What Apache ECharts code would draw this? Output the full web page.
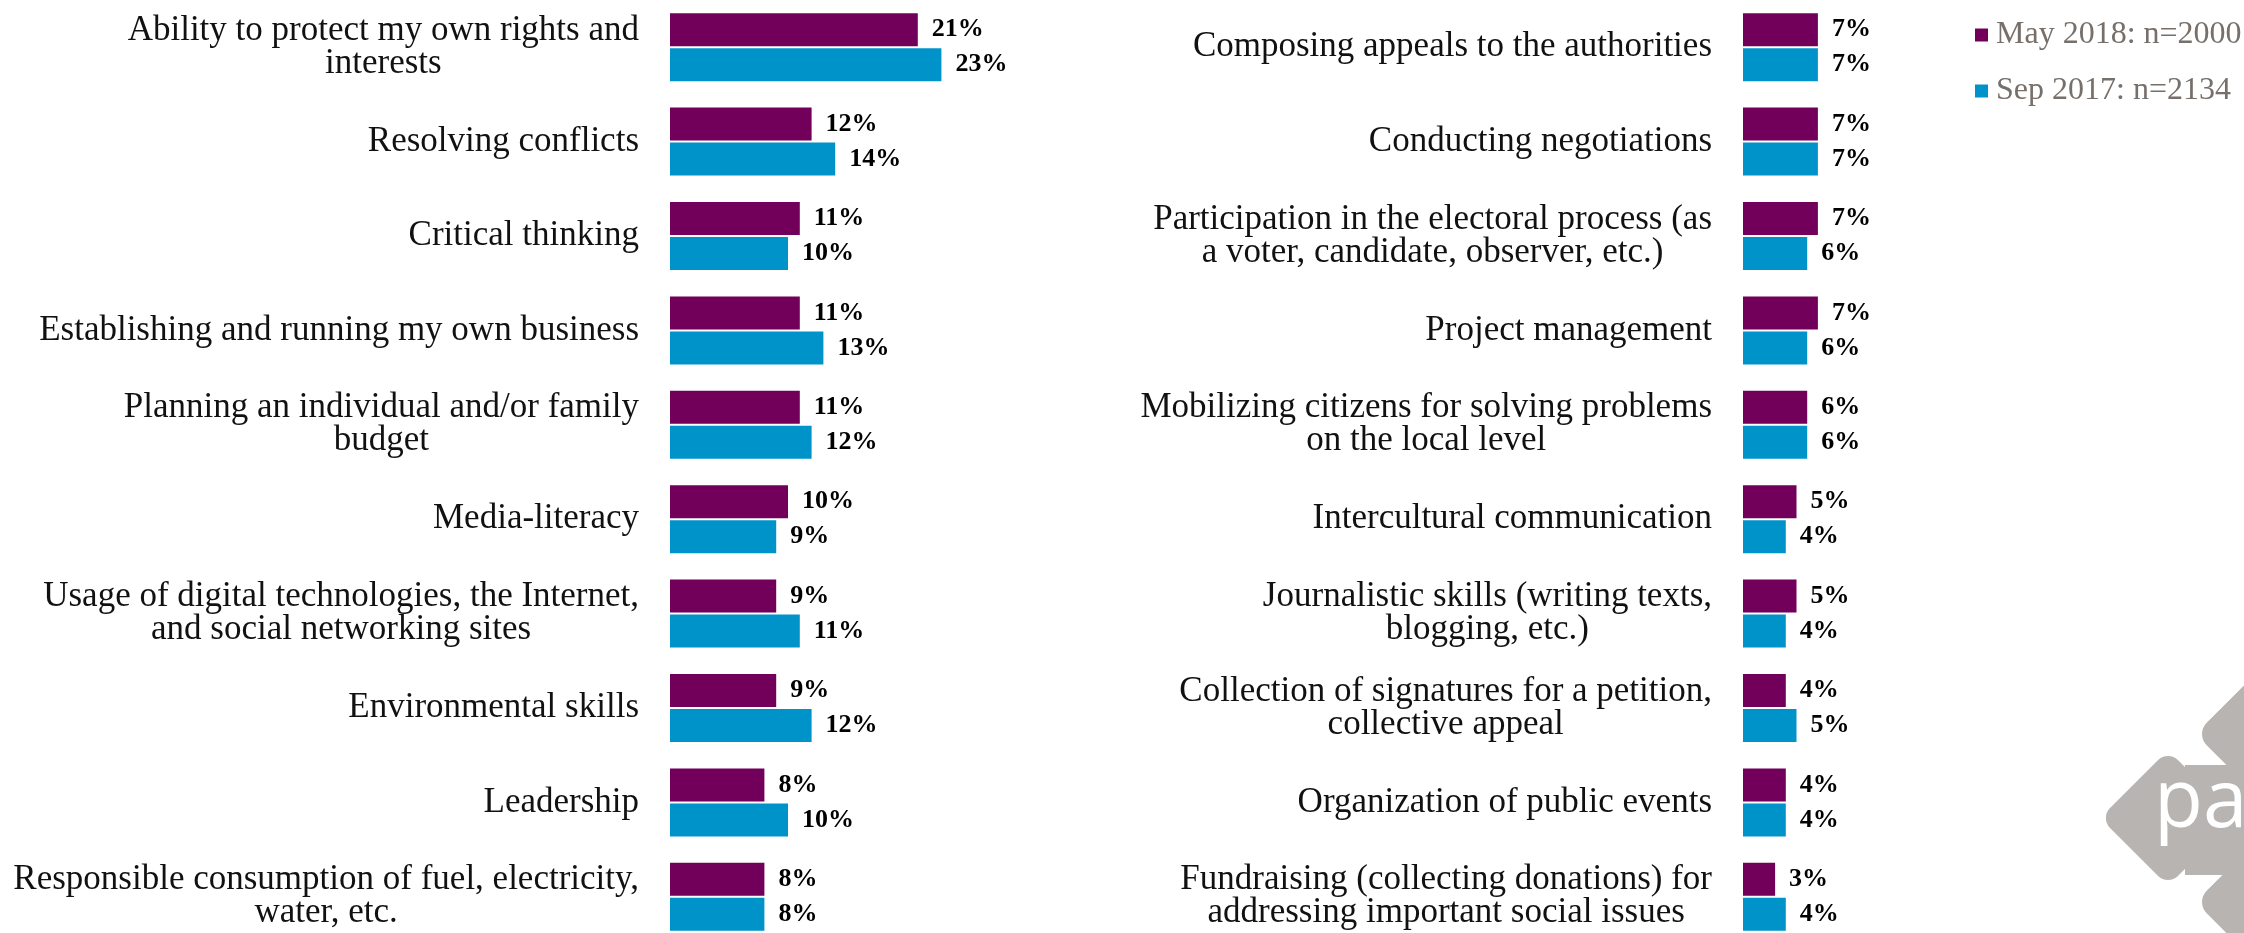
<!DOCTYPE html>
<html>
<head>
<meta charset="utf-8">
<style>
  html, body { margin: 0; padding: 0; background: #ffffff; }
  #chart { width: 2244px; height: 933px; }
</style>
<script src="https://cdn.jsdelivr.net/npm/echarts@6/dist/echarts.min.js"></script>
</head>
<body>
<div id="chart"></div>
<script>
// Skill areas, left column (top to bottom)
const leftSkills = [
  'Ability to protect my own rights and\ninterests',
  'Resolving conflicts',
  'Critical thinking',
  'Establishing and running my own business',
  'Planning an individual and/or family\nbudget',
  'Media-literacy',
  'Usage of digital technologies, the Internet,\nand social networking sites',
  'Environmental skills',
  'Leadership',
  'Responsible consumption of fuel, electricity,\nwater, etc.'
];
const leftMay2018 = [21, 12, 11, 11, 11, 10, 9, 9, 8, 8];
const leftSep2017 = [23, 14, 10, 13, 12, 9, 11, 12, 10, 8];

// Skill areas, right column (top to bottom)
const rightSkills = [
  'Composing appeals to the authorities',
  'Conducting negotiations',
  'Participation in the electoral process (as\na voter, candidate, observer, etc.)',
  'Project management',
  'Mobilizing citizens for solving problems\non the local level',
  'Intercultural communication',
  'Journalistic skills (writing texts,\nblogging, etc.)',
  'Collection of signatures for a petition,\ncollective appeal',
  'Organization of public events',
  'Fundraising (collecting donations) for\naddressing important social issues'
];
const rightMay2018 = [7, 7, 7, 7, 6, 5, 5, 4, 4, 3];
const rightSep2017 = [7, 7, 6, 6, 6, 4, 4, 5, 4, 4];

const seriesNames = ['May 2018: n=2000', 'Sep 2017: n=2134'];

const PURPLE = '#72005A';
const BLUE = '#0093C9';
const LOGO_GREY = '#B8B4B2';
const SERIF = '"Liberation Serif", "Times New Roman", serif';

const chart = echarts.init(document.getElementById('chart'), null, { renderer: 'canvas' });

function categoryAxis(gridIndex, data) {
  return {
    type: 'category',
    gridIndex: gridIndex,
    data: data,
    inverse: true,
    axisLine: { show: false },
    axisTick: { show: false },
    splitLine: { show: false },
    axisLabel: {
      margin: 31,
      align: 'right',
      color: '#111111',
      fontFamily: SERIF,
      fontSize: 35,
      lineHeight: 33,
      // each line of a two-line label is centred under the other
      formatter: function (v) {
        return v.split('\n').map(function (line) { return '{c|' + line + '}'; }).join('\n');
      },
      rich: {
        c: { align: 'center', fontFamily: SERIF, fontSize: 35, lineHeight: 33, color: '#111111' }
      }
    }
  };
}

function valueAxis(gridIndex, max) {
  return {
    type: 'value',
    gridIndex: gridIndex,
    min: 0,
    max: max,
    show: false,
    splitLine: { show: false }
  };
}

function barSeries(name, color, data, axisIndex) {
  return {
    name: name,
    type: 'bar',
    xAxisIndex: axisIndex,
    yAxisIndex: axisIndex,
    data: data,
    barWidth: 33,
    barGap: '6%',
    itemStyle: { color: color },
    label: {
      show: true,
      position: 'right',
      distance: 14,
      formatter: '{c}%',
      fontFamily: SERIF,
      fontWeight: 'bold',
      fontSize: 26,
      color: '#000000'
    }
  };
}

const option = {
  animation: false,
  backgroundColor: '#ffffff',
  legend: {
    data: seriesNames,
    orient: 'vertical',
    left: 1970,
    top: 14,
    icon: 'rect',
    itemWidth: 13,
    itemHeight: 13,
    itemGap: 24,
    selectedMode: false,
    textStyle: {
      fontFamily: SERIF,
      fontSize: 32,
      lineHeight: 31,
      color: '#776F6A',
      padding: [0, 0, 0, 3]
    }
  },
  grid: [
    { left: 670, top: 0, width: 295, height: 944, containLabel: false, outerBoundsMode: 'none' },
    { left: 1743, top: 0, width: 107, height: 944, containLabel: false, outerBoundsMode: 'none' }
  ],
  xAxis: [valueAxis(0, 25), valueAxis(1, 10)],
  yAxis: [categoryAxis(0, leftSkills), categoryAxis(1, rightSkills)],
  series: [
    barSeries(seriesNames[0], PURPLE, leftMay2018, 0),
    barSeries(seriesNames[1], BLUE, leftSep2017, 0),
    barSeries(seriesNames[0], PURPLE, rightMay2018, 1),
    barSeries(seriesNames[1], BLUE, rightSep2017, 1)
  ],
  graphic: [
    {
      // corner logo badge: three rounded diamonds and the word mark
      type: 'group',
      silent: true,
      children: [
        { type: 'rect', x: 2168, y: 818, rotation: Math.PI / 4,
          shape: { x: -48, y: -48, width: 96, height: 96, r: 14 }, style: { fill: LOGO_GREY } },
        { type: 'rect', x: 2276, y: 734, rotation: Math.PI / 4,
          shape: { x: -57, y: -57, width: 114, height: 114, r: 16 }, style: { fill: LOGO_GREY } },
        { type: 'rect', x: 2276, y: 902, rotation: Math.PI / 4,
          shape: { x: -57, y: -57, width: 114, height: 114, r: 16 }, style: { fill: LOGO_GREY } },
        { type: 'rect', shape: { x: 2185, y: 765, width: 80, height: 110 }, style: { fill: LOGO_GREY } },
        { type: 'text', x: 2154, y: 804,
          style: { text: 'pa', fill: '#ffffff', fontFamily: '"Open Sans", sans-serif',
                   fontSize: 80, verticalAlign: 'middle', align: 'left' } }
      ]
    }
  ]
};

chart.setOption(option);
</script>
</body>
</html>
